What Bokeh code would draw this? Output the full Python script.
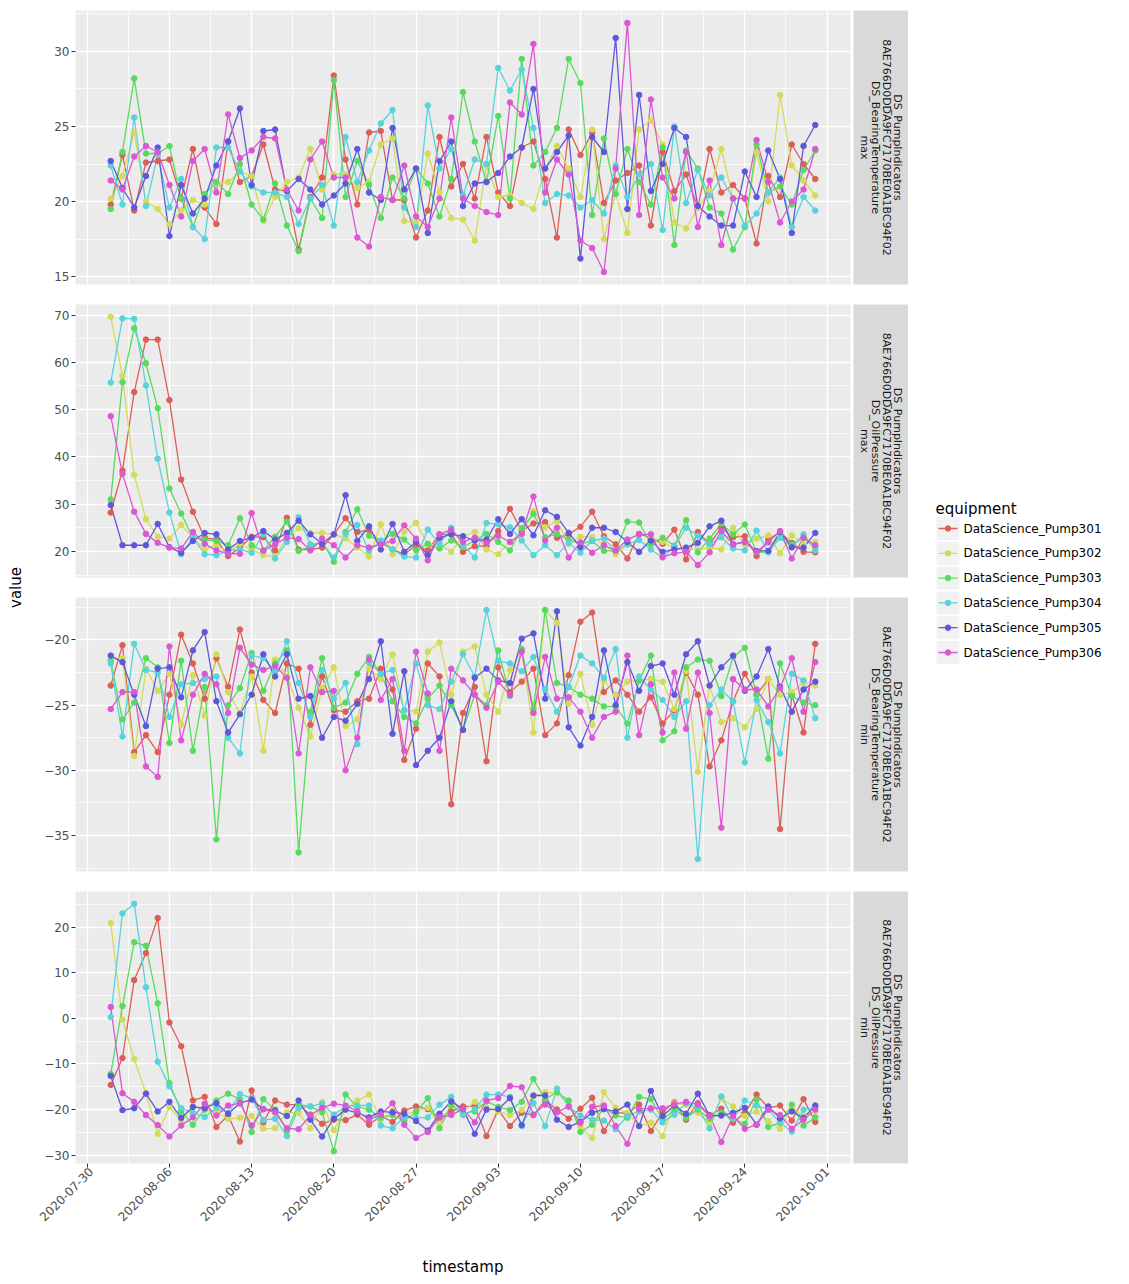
import math
import pandas as pd
from bokeh.plotting import figure
from bokeh.layouts import row, column
from bokeh.models import Range1d, FixedTicker, SingleIntervalTicker, DatetimeTickFormatter
from bokeh.core.properties import value
from bokeh.embed import file_html
from bokeh.resources import INLINE

FONT = "DejaVu Sans"

# ---------------- data ----------------
dates = pd.date_range("2020-08-01", periods=61, freq="D")
equipment = ["DataScience_Pump301", "DataScience_Pump302", "DataScience_Pump303",
             "DataScience_Pump304", "DataScience_Pump305", "DataScience_Pump306"]
colors = ["#db5f57", "#d3db57", "#57db5f", "#57d3db", "#5f57db", "#db57d3"]

strip_line1 = "DS_PumpIndicators"
strip_line2 = "8AE766D0DDA9FC7170BE0A1BC94F02"

# DS_BearingTemperature / max
bt_max_301 = [19.8,23.1,19.4,22.6,22.7,22.8,20.2,23.5,19.6,18.5,24.0,21.3,21.7,23.8,20.8,20.7,16.8,20.3,21.6,28.4,22.8,
              19.8,24.6,24.7,20.1,20.1,17.6,19.4,24.3,21.0,22.5,20.2,24.3,20.6,19.7,23.6,24.0,21.5,17.6,24.8,23.1,24.6,
              19.9,21.4,21.9,22.4,18.4,23.3,20.7,21.8,19.6,23.5,20.6,21.1,20.2,17.2,21.7,20.3,23.8,22.5,21.5]
bt_max_302 = [20.2,21.7,24.6,20.0,19.5,18.5,19.4,20.1,19.8,21.2,21.3,22.0,21.7,18.7,20.3,21.3,21.6,23.5,20.8,21.8,21.8,
              20.9,21.3,23.8,24.2,18.7,18.6,23.2,20.6,18.9,18.8,17.4,22.4,20.3,20.4,19.9,19.5,22.2,23.7,22.2,20.3,24.8,
              17.5,20.5,17.9,24.8,25.4,23.8,18.6,18.2,19.6,20.7,23.5,20.2,18.3,23.3,20.0,27.1,22.4,21.4,20.4]
bt_max_303 = [19.5,23.3,28.2,23.2,23.2,23.7,20.2,18.3,20.5,21.3,20.5,22.5,19.8,18.8,21.2,18.4,16.7,20.2,18.9,28.1,20.3,
              22.7,21.1,18.9,21.6,20.2,22.2,21.2,19.0,21.5,27.3,24.0,21.3,25.7,20.2,29.5,22.4,23.3,24.9,29.5,27.9,19.1,
              24.2,20.5,23.5,21.3,19.8,23.6,17.1,23.4,22.2,19.6,19.2,16.8,18.3,23.8,20.6,21.0,19.8,22.1,23.4]
bt_max_304 = [22.4,19.8,25.6,19.7,23.1,19.6,21.5,18.3,17.5,23.6,23.6,22.0,21.0,20.6,20.6,20.3,18.5,20.2,21.1,18.4,24.3,
              21.3,23.4,25.2,26.1,19.6,18.3,26.4,22.2,23.5,20.4,22.8,22.5,28.9,27.4,28.8,24.9,19.9,20.5,20.4,19.6,20.1,
              19.2,22.4,20.3,21.8,22.5,18.1,25.0,19.9,22.1,20.4,21.6,20.2,18.4,19.2,20.6,21.6,18.3,20.3,19.4]
bt_max_305 = [22.7,20.9,19.6,21.7,23.6,17.7,21.1,19.2,20.2,22.4,24.0,26.2,21.1,24.7,24.8,20.7,21.5,20.8,19.8,20.4,21.2,
              23.5,20.6,20.1,24.9,20.8,22.2,17.9,22.7,24.0,19.7,21.2,21.3,21.9,23.0,23.6,27.5,22.2,23.3,24.4,16.2,24.3,
              23.3,30.9,19.5,27.1,20.7,22.5,24.9,24.3,19.7,19.0,18.4,18.4,22.0,20.3,23.4,21.5,17.9,23.7,25.1]
bt_max_306 = [21.4,20.8,23.0,23.7,23.3,21.1,19.0,22.7,23.5,20.6,25.8,22.9,23.4,24.3,24.2,20.8,19.4,22.8,24.0,21.6,21.6,
              17.6,17.0,20.3,20.1,22.4,19.0,18.3,20.2,25.6,20.2,19.7,19.3,19.1,26.6,25.8,30.5,20.6,22.8,21.8,17.4,16.9,
              15.3,22.2,31.9,19.1,26.8,21.6,20.2,23.3,18.3,21.4,17.1,20.2,20.2,24.1,21.3,18.6,20.0,20.8,23.5]

# DS_OilPressure / max
op_max_301 = [28.2,37.1,53.7,64.8,64.8,52.0,35.2,28.4,22.9,22.5,19.0,20.8,23.1,23.0,20.2,27.1,20.4,20.4,20.8,23.6,27.0,
              24.1,24.5,21.9,20.4,19.4,21.3,20.2,23.6,23.6,19.9,21.1,21.1,24.3,29.0,24.3,25.9,26.2,22.9,23.6,25.2,28.4,
              23.2,21.5,18.5,23.7,22.9,21.6,24.6,18.3,24.1,21.5,25.0,23.0,23.2,19.0,22.5,24.1,21.8,19.9,19.8]
op_max_302 = [69.6,57.1,36.2,26.8,23.1,22.7,25.6,22.9,20.4,21.3,19.9,21.6,20.4,19.2,18.9,22.9,24.9,23.9,23.9,23.6,22.8,
              20.8,18.9,25.7,19.4,24.1,26.0,21.5,21.5,19.9,23.2,24.1,20.4,19.4,22.0,23.6,28.5,25.1,26.4,21.6,23.1,23.0,
              21.5,19.4,21.5,19.8,22.9,22.0,20.6,20.6,20.3,20.8,20.4,25.0,21.5,22.7,23.4,19.6,23.4,21.6,22.0]
op_max_303 = [31.0,55.8,67.2,59.8,50.3,33.3,28.0,22.9,22.5,22.2,21.3,27.0,21.3,20.1,23.1,26.3,20.1,21.0,22.0,17.8,24.1,
              28.9,23.3,22.2,23.7,22.5,20.2,21.6,20.6,22.3,20.9,22.3,23.7,22.0,20.2,24.9,27.9,23.0,23.6,22.5,21.6,22.2,
              20.1,20.1,26.3,26.1,21.5,22.9,21.2,26.6,19.8,22.7,25.9,23.6,25.7,19.8,19.9,23.6,21.5,22.9,20.9]
op_max_304 = [55.7,69.3,69.2,55.1,39.6,28.2,19.4,22.9,19.4,19.2,20.2,20.4,19.7,23.6,18.5,22.0,27.2,21.5,21.8,18.7,23.7,
              25.6,20.1,22.3,20.4,18.9,18.7,24.6,21.6,25.0,21.3,18.7,26.0,25.7,25.1,22.3,19.2,21.3,19.2,21.8,19.7,22.3,
              22.7,20.1,21.5,22.4,20.4,18.7,21.0,25.0,23.3,21.5,23.0,20.6,20.2,24.4,19.8,22.9,20.8,23.6,20.2]
op_max_305 = [29.8,21.3,21.3,21.3,25.8,20.9,19.7,22.2,23.9,23.6,20.4,22.2,22.9,24.3,22.5,23.9,26.5,23.6,21.6,23.6,31.9,
              22.2,25.3,20.4,25.8,19.9,22.0,19.2,22.9,23.6,23.2,22.3,22.5,26.8,23.7,26.8,23.4,28.7,27.3,23.9,20.9,25.0,
              25.0,24.1,22.0,19.9,22.3,19.9,20.4,20.8,21.8,25.3,26.5,21.5,22.0,20.1,20.1,24.1,20.9,20.8,23.9]
op_max_306 = [48.6,36.4,28.4,23.7,21.8,20.8,20.6,24.1,21.6,20.2,19.5,19.5,28.1,20.2,21.5,22.9,22.6,20.2,22.7,21.3,18.7,
              21.3,20.8,21.5,22.2,25.5,22.7,18.1,23.6,24.6,22.0,22.9,21.8,23.3,22.0,23.7,31.6,22.3,25.0,18.7,21.9,19.7,
              21.3,20.2,22.5,23.6,23.6,18.8,19.6,19.9,17.1,19.8,24.3,21.5,22.0,19.9,21.9,24.3,18.5,22.9,21.3]

# DS_BearingTemperature / min
bt_min_301 = [-23.5,-20.4,-28.6,-27.3,-28.6,-24.2,-19.6,-21.8,-24.5,-21.4,-23.6,-19.2,-22.5,-24.6,-25.6,-21.8,-22.2,-26.5,-22.8,-25.4,-25.5,
              -24.7,-24.5,-22.2,-23.8,-29.2,-26.8,-21.8,-22.8,-32.6,-25.6,-23.6,-29.3,-22.1,-24.0,-23.2,-22.2,-27.3,-26.4,-22.7,-18.6,-17.9,
              -24.0,-23.1,-24.2,-25.5,-24.4,-26.4,-25.4,-22.5,-24.2,-29.7,-27.7,-24.7,-22.6,-24.2,-23.0,-34.5,-24.2,-27.1,-20.3]
bt_min_302 = [-21.5,-21.4,-28.9,-22.2,-23.9,-22.6,-26.5,-22.7,-25.8,-21.1,-24.0,-25.6,-22.8,-28.5,-21.5,-22.8,-25.2,-27.4,-23.7,-22.1,-26.6,
              -26.1,-22.2,-23.0,-21.1,-25.4,-25.5,-20.9,-20.2,-24.2,-20.9,-20.5,-24.2,-25.5,-22.3,-20.8,-27.1,-17.7,-18.7,-24.9,-22.6,-26.5,
              -23.1,-24.2,-23.2,-23.1,-23.0,-23.2,-25.3,-22.4,-30.1,-23.5,-26.3,-26.0,-26.7,-25.3,-23.0,-24.2,-24.0,-23.3,-23.5]
bt_min_303 = [-21.6,-26.1,-24.8,-21.4,-22.1,-27.9,-21.6,-28.5,-23.6,-35.3,-25.0,-23.7,-21.0,-23.9,-21.8,-20.8,-36.3,-25.5,-21.4,-25.2,-24.8,
              -22.6,-21.3,-22.6,-24.7,-25.9,-26.4,-24.5,-23.5,-25.0,-26.9,-24.2,-25.0,-20.8,-24.3,-20.7,-25.3,-17.7,-23.3,-23.6,-24.2,-24.5,
              -25.1,-25.1,-26.4,-23.1,-21.2,-27.7,-27.0,-22.1,-21.5,-21.6,-24.3,-21.3,-20.6,-24.2,-29.1,-21.8,-24.3,-24.8,-25.0]
bt_min_304 = [-21.8,-27.4,-20.3,-22.3,-22.5,-25.9,-23.4,-23.3,-23.0,-22.8,-27.5,-28.7,-21.2,-21.4,-22.4,-20.1,-23.3,-25.9,-22.3,-24.5,-23.3,
              -28.0,-21.7,-22.6,-22.3,-25.4,-21.8,-25.0,-25.3,-23.2,-21.1,-22.8,-17.7,-21.6,-21.8,-22.4,-21.3,-23.8,-25.5,-23.6,-21.2,-21.8,
              -22.9,-20.7,-27.5,-22.8,-23.8,-24.6,-25.9,-24.7,-36.8,-25.0,-23.8,-24.7,-29.4,-24.6,-26.3,-28.7,-22.6,-23.1,-26.0]
bt_min_305 = [-21.2,-21.7,-24.2,-26.6,-22.2,-22.1,-24.4,-20.8,-19.4,-24.7,-27.1,-25.7,-24.2,-21.1,-22.8,-21.1,-24.5,-24.3,-27.5,-25.9,-26.2,
              -24.9,-23.0,-20.1,-27.2,-22.4,-29.6,-28.5,-27.5,-24.7,-26.9,-22.9,-22.2,-23.1,-23.3,-19.9,-19.5,-24.5,-17.8,-26.7,-28.1,-25.9,
              -20.8,-25.0,-21.7,-23.9,-22.0,-21.8,-24.2,-21.1,-20.1,-23.5,-22.1,-21.2,-23.9,-22.8,-20.7,-23.6,-25.5,-23.8,-23.2]
bt_min_306 = [-25.3,-24.0,-24.0,-29.7,-30.5,-20.5,-27.7,-24.2,-22.6,-23.4,-25.6,-20.6,-21.9,-22.3,-22.0,-22.9,-28.7,-22.1,-24.0,-23.9,-30.0,
              -27.5,-21.5,-24.6,-23.0,-28.5,-20.9,-24.1,-28.5,-22.2,-23.1,-24.2,-25.2,-23.2,-24.2,-20.9,-25.6,-21.3,-24.5,-24.4,-25.5,-27.5,
              -25.9,-25.5,-21.2,-27.3,-23.4,-27.1,-22.5,-26.8,-22.5,-25.6,-34.4,-23.0,-23.8,-23.8,-25.1,-23.7,-21.4,-25.5,-21.7]

# DS_OilPressure / min
op_min_301 = [-14.6,-8.7,8.4,14.3,22.0,-0.9,-6.1,-18.0,-17.2,-23.8,-21.3,-27.0,-15.8,-22.8,-18.0,-18.9,-18.9,-21.1,-23.1,-22.2,-22.3,
              -21.1,-23.3,-21.4,-22.7,-20.2,-19.3,-19.9,-21.8,-20.4,-19.3,-19.3,-25.8,-20.0,-23.6,-20.7,-21.2,-18.0,-20.0,-22.0,-19.8,-17.4,
              -24.7,-20.6,-20.9,-18.9,-24.7,-20.6,-18.4,-22.2,-18.6,-21.2,-19.8,-22.9,-20.7,-16.7,-19.6,-19.1,-22.4,-17.7,-22.7]
op_min_302 = [20.9,-0.3,-8.9,-16.4,-25.3,-19.4,-22.5,-19.3,-20.0,-20.5,-22.0,-21.8,-21.4,-24.2,-24.1,-20.6,-20.7,-24.1,-18.4,-24.5,-20.0,
              -18.0,-16.7,-22.2,-20.2,-21.1,-20.4,-19.6,-23.3,-18.9,-20.4,-18.3,-19.6,-20.4,-21.2,-20.1,-17.1,-16.2,-16.4,-18.6,-23.8,-26.2,
              -16.2,-19.6,-20.7,-23.5,-22.9,-25.8,-18.6,-18.9,-20.7,-22.9,-17.5,-19.3,-21.4,-20.4,-22.5,-24.2,-19.6,-21.4,-20.4]
op_min_303 = [-12.2,2.7,16.7,15.9,3.3,-14.2,-20.4,-23.3,-20.0,-18.0,-16.5,-17.7,-24.9,-17.7,-20.0,-24.7,-18.9,-19.3,-20.6,-29.1,-16.7,
              -19.4,-20.0,-21.8,-21.2,-22.5,-20.5,-17.5,-24.1,-19.1,-20.9,-20.4,-18.2,-19.4,-20.1,-18.3,-13.3,-17.7,-16.2,-18.0,-24.9,-23.3,
              -19.6,-21.3,-21.8,-17.2,-17.7,-22.2,-20.0,-21.8,-20.0,-22.0,-20.7,-22.0,-23.1,-17.8,-23.8,-22.9,-18.9,-23.5,-21.7]
op_min_304 = [0.3,23.0,25.1,6.8,-9.5,-14.9,-19.7,-20.7,-21.6,-19.6,-20.7,-16.6,-17.5,-22.3,-22.0,-25.8,-19.7,-19.3,-18.7,-21.1,-19.3,
              -19.1,-19.1,-23.5,-24.1,-21.6,-21.8,-21.7,-18.9,-17.2,-21.2,-19.9,-16.7,-16.7,-17.2,-23.6,-18.6,-23.6,-15.4,-19.4,-21.3,-22.2,
              -22.4,-24.3,-21.4,-20.4,-20.0,-22.8,-21.1,-18.6,-19.6,-24.1,-17.1,-22.0,-18.0,-19.1,-20.0,-22.9,-24.8,-20.0,-19.5]
op_min_305 = [-12.6,-20.1,-19.7,-16.5,-20.4,-18.3,-21.8,-19.4,-19.7,-18.6,-20.9,-18.6,-17.8,-19.9,-20.2,-21.4,-18.0,-22.2,-25.9,-22.0,-20.0,
              -20.7,-21.7,-20.4,-20.6,-20.9,-22.5,-24.6,-20.9,-18.2,-19.9,-25.3,-20.0,-19.9,-17.5,-23.4,-16.9,-16.9,-22.2,-23.8,-22.7,-20.7,
              -19.9,-20.4,-18.9,-23.6,-15.9,-21.4,-19.1,-20.9,-16.5,-21.3,-21.3,-20.7,-19.6,-23.3,-19.3,-21.9,-20.4,-21.8,-19.1]
op_min_306 = [2.5,-16.4,-18.3,-21.2,-23.4,-25.9,-23.5,-21.7,-18.7,-21.3,-19.1,-18.6,-23.5,-19.9,-20.6,-24.1,-24.3,-21.2,-19.6,-18.7,-19.1,
              -20.4,-22.2,-21.1,-18.6,-23.3,-26.2,-24.9,-21.7,-21.2,-19.9,-22.8,-18.0,-17.5,-14.8,-15.1,-21.1,-18.9,-20.6,-19.3,-22.9,-19.4,
              -19.1,-23.6,-27.5,-19.9,-19.7,-19.7,-18.8,-18.3,-18.9,-21.4,-27.1,-21.4,-24.2,-23.3,-20.0,-21.2,-24.2,-22.2,-20.0]

panels = [
    ("DS_BearingTemperature", "max", [bt_max_301, bt_max_302, bt_max_303, bt_max_304, bt_max_305, bt_max_306], 5),
    ("DS_OilPressure", "max", [op_max_301, op_max_302, op_max_303, op_max_304, op_max_305, op_max_306], 10),
    ("DS_BearingTemperature", "min", [bt_min_301, bt_min_302, bt_min_303, bt_min_304, bt_min_305, bt_min_306], 5),
    ("DS_OilPressure", "min", [op_min_301, op_min_302, op_min_303, op_min_304, op_min_305, op_min_306], 10),
]

# ---------------- layout constants ----------------
PANEL_W = 815
BORDER_L = 37
BORDER_R = 3
STRIP_W = 55
YLAB_W = 38
tops = [10, 10, 10, 10]
frames = [274, 273, 274, 273]
bottoms = [10, 10, 10, 115]
TOTAL_H = sum(tops) + sum(frames) + sum(bottoms)

span = dates[-1] - dates[0]
x_range = Range1d(start=dates[0] - span * 0.05, end=dates[-1] + span * 0.05)

week_ticks = pd.date_range("2020-07-30", "2020-10-01", freq="7D")
major_ms = [int(t.value // 10**6) for t in week_ticks]
minor_ms = [int((t + pd.Timedelta(hours=84)).value // 10**6) for t in week_ticks[:-1]]
x_ticker = FixedTicker(ticks=major_ms, minor_ticks=minor_ms)

rows = []
for i, (measure, stat, series, interval) in enumerate(panels):
    allv = [v for s in series for v in s]
    lo, hi = min(allv), max(allv)
    pad = (hi - lo) * 0.05
    last = (i == len(panels) - 1)
    h = tops[i] + frames[i] + bottoms[i]
    p = figure(width=PANEL_W, height=h, x_axis_type="datetime", x_range=x_range,
               y_range=Range1d(lo - pad, hi + pad),
               x_axis_location="below" if last else None,
               output_backend="svg", toolbar_location=None,
               min_border_left=BORDER_L, min_border_right=BORDER_R,
               min_border_top=tops[i], min_border_bottom=bottoms[i],
               background_fill_color="#EBEBEB", border_fill_color="white",
               outline_line_color=None)
    p.xgrid.ticker = x_ticker
    for g in (p.xgrid, p.ygrid):
        g.grid_line_color = "white"
        g.grid_line_width = 1.4
        g.minor_grid_line_color = "white"
        g.minor_grid_line_width = 0.7
    p.yaxis.ticker = SingleIntervalTicker(interval=interval, num_minor_ticks=2)
    p.yaxis.axis_line_color = None
    p.yaxis.major_tick_line_color = "#333333"
    p.yaxis.major_tick_out = 4
    p.yaxis.major_tick_in = 0
    p.yaxis.minor_tick_line_color = None
    p.yaxis.major_label_standoff = 2
    p.yaxis.major_label_text_font = FONT
    p.yaxis.major_label_text_font_size = "12px"
    p.yaxis.major_label_text_color = "#4d4d4d"
    if last:
        ax = p.xaxis[0]
        ax.ticker = x_ticker
        ax.formatter = DatetimeTickFormatter(days="%Y-%m-%d", months="%Y-%m-%d", years="%Y-%m-%d",
                                             hours="%Y-%m-%d")
        ax.axis_line_color = None
        ax.major_tick_line_color = "#333333"
        ax.major_tick_out = 4
        ax.major_tick_in = 0
        ax.minor_tick_line_color = None
        ax.major_label_orientation = math.pi / 4
        ax.major_label_standoff = 2
        ax.major_label_text_font = FONT
        ax.major_label_text_font_size = "12px"
        ax.major_label_text_color = "#4d4d4d"
        ax.axis_label = "timestamp"
        ax.axis_label_text_font = FONT
        ax.axis_label_text_font_size = "15px"
        ax.axis_label_text_font_style = "normal"
        ax.axis_label_text_color = "black"
        ax.axis_label_standoff = 30
    for k in range(len(series)):
        p.line(dates, series[k], line_color=colors[k], line_width=1.3)
    for k in range(len(series)):
        p.scatter(dates, series[k], size=5.5, fill_color=colors[k], line_color=colors[k])

    s = figure(width=STRIP_W, height=h, x_range=Range1d(0, STRIP_W), y_range=Range1d(0, 1),
               x_axis_location=None, y_axis_location=None,
               output_backend="svg", toolbar_location=None,
               min_border_left=0, min_border_right=0,
               min_border_top=tops[i], min_border_bottom=bottoms[i],
               background_fill_color="#D9D9D9", border_fill_color="white",
               outline_line_color=None)
    s.xgrid.grid_line_color = None
    s.ygrid.grid_line_color = None
    lines = [strip_line1, strip_line2, measure, stat]
    s.text(x=[44 - 11 * j for j in range(4)], y=[0.5] * 4, text=lines,
           angle=-math.pi / 2, text_align="center", text_baseline="middle",
           text_font=value(FONT), text_font_size="11px", text_color="#1a1a1a")
    rows.append(row(p, s))

# y-axis title
ylab = figure(width=YLAB_W, height=TOTAL_H, x_range=Range1d(0, YLAB_W), y_range=Range1d(0, TOTAL_H),
              x_axis_location=None, y_axis_location=None, output_backend="svg",
              toolbar_location=None, min_border=0, outline_line_color=None,
              background_fill_color="white", border_fill_color="white")
ylab.xgrid.grid_line_color = None
ylab.ygrid.grid_line_color = None
ylab.text(x=[15], y=[TOTAL_H - 587], text=["value"], angle=math.pi / 2,
          text_align="center", text_baseline="middle",
          text_font=value(FONT), text_font_size="15px", text_color="black")

# legend
LEG_W = 210
leg = figure(width=LEG_W, height=TOTAL_H, x_range=Range1d(0, LEG_W), y_range=Range1d(0, TOTAL_H),
             x_axis_location=None, y_axis_location=None, output_backend="svg",
             toolbar_location=None, min_border=0, outline_line_color=None,
             background_fill_color="white", border_fill_color="white")
leg.xgrid.grid_line_color = None
leg.ygrid.grid_line_color = None
leg.text(x=[27], y=[TOTAL_H - 508], text=["equipment"], text_align="left", text_baseline="middle",
         text_font=value(FONT), text_font_size="15px", text_color="black")
KEY = 24
ROW = 24.8
key_x0 = 28
first_c = 528
for k, name in enumerate(equipment):
    cy = TOTAL_H - (first_c + ROW * k)
    leg.quad(left=[key_x0], right=[key_x0 + KEY - 1], bottom=[cy - KEY / 2 + 0.5], top=[cy + KEY / 2 - 0.5],
             fill_color="#F2F2F2", line_color=None)
    leg.line(x=[key_x0 + 2, key_x0 + KEY - 3], y=[cy, cy], line_color=colors[k], line_width=1.3)
    leg.scatter(x=[key_x0 + KEY / 2 - 0.5], y=[cy], size=5.5, fill_color=colors[k], line_color=colors[k])
    leg.text(x=[key_x0 + KEY + 3], y=[cy], text=[name], text_align="left", text_baseline="middle",
             text_font=value(FONT), text_font_size="12px", text_color="black")

layout = row(ylab, column(*rows), leg)
open("out.html", "w").write(file_html(layout, INLINE))
